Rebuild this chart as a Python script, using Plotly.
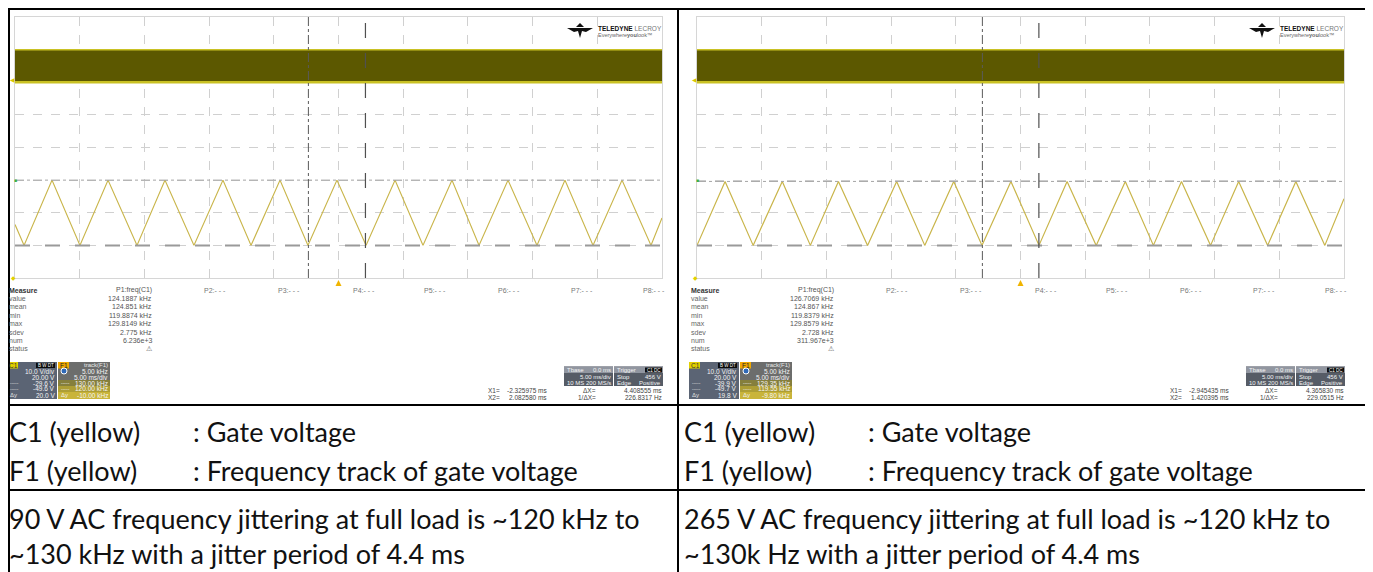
import plotly.graph_objects as go

W, H = 1373, 572          # reference picture size
PAGE_OFF = 8               # the html body margin shifts the figure by 8 px
FW, FH = W - PAGE_OFF, H - PAGE_OFF

# ---------------- data ----------------
# F1 = frequency track of gate voltage (kHz) versus time (ms), 5 ms/div, 5 kHz/div
left_f1_t_ms = [-25.0, -24.30, -22.14, -19.98, -17.81, -15.57, -13.41, -11.17, -8.93, -6.76,
                -4.52, -2.36, -0.12, 2.13, 4.37, 6.53, 8.77, 10.86, 13.10, 15.34,
                17.50, 19.67, 21.91, 24.15, 25.0]
left_f1_khz = [123.2, 120.0, 130.0, 120.0, 130.0, 120.0, 130.0, 120.0, 130.0, 120.0,
               130.0, 120.0, 130.0, 120.0, 130.0, 120.0, 130.0, 120.0, 130.0, 120.0,
               130.0, 120.0, 130.0, 120.0, 124.2]
right_f1_t_ms = [-25.0, -22.83, -20.66, -18.41, -16.24, -14.07, -11.82, -9.57, -7.40, -5.16,
                 -2.98, -0.74, 1.43, 3.60, 5.85, 8.10, 10.27, 12.44, 14.69, 16.86,
                 19.10, 21.28, 23.52, 25.0]
right_f1_khz = [119.55, 129.35, 119.55, 129.35, 119.55, 129.35, 119.55, 129.35, 119.55, 129.35,
                119.55, 129.35, 119.55, 129.35, 119.55, 129.35, 119.55, 129.35, 119.55, 129.35,
                119.55, 129.35, 119.55, 126.7]

# C1 = gate voltage envelope (V), 10 V/div
gate_t_ms = [-25.0, 25.0]
gate_low_v = [0.0, 0.0]
gate_high_v = [10.0, 10.0]

# cursors
left_cursor_t_ms = [-2.325975, 2.082580]
left_cursor_khz = [130.0, 120.0]
right_cursor_t_ms = [-2.945435, 1.420395]
right_cursor_khz = [129.35, 119.55]

# measurement table
measure_rows = ["value", "mean", "min", "max", "sdev", "num", "status"]
left_measure = ["124.1887 kHz", "124.851 kHz", "119.8874 kHz", "129.8149 kHz", "2.775 kHz", "6.236e+3", "⚠"]
right_measure = ["126.7069 kHz", "124.867 kHz", "119.8379 kHz", "129.8579 kHz", "2.728 kHz", "311.967e+3", "⚠"]
param_names = ["P1:freq(C1)", "P2:- - -", "P3:- - -", "P4:- - -", "P5:- - -", "P6:- - -", "P7:- - -", "P8:- - -"]

left_c1_box = ["10.0 V/div", "20.00 V", "-29.6 V", "-49.6 V", "20.0 V"]
left_f1_box = ["5.00 kHz", "5.00 ms/div", "130.00 kHz", "120.00 kHz", "-10.00 kHz"]
right_c1_box = ["10.0 V/div", "20.00 V", "-39.9 V", "-49.7 V", "19.8 V"]
right_f1_box = ["5.00 kHz", "5.00 ms/div", "129.35 kHz", "119.55 kHz", "-9.80 kHz"]
tbase_box = ["Tbase", "0.0 ms", "5.00 ms/div", "10 MS", "200 MS/s"]
trigger_box = ["Trigger", "Stop", "456 V", "Edge", "Positive"]
left_x_readout = [("X1=", "-2.325975 ms", "ΔX=", "4.408555 ms"), ("X2=", "2.082580 ms", "1/ΔX=", "226.8317 Hz")]
right_x_readout = [("X1=", "-2.945435 ms", "ΔX=", "4.365830 ms"), ("X2=", "1.420395 ms", "1/ΔX=", "229.0515 Hz")]

caption_rows = [("C1 (yellow)", ": Gate voltage"), ("F1 (yellow)", ": Frequency track of gate voltage")]
left_note = ["90 V AC frequency jittering at full load is ~120 kHz to", "~130 kHz with a jitter period of 4.4 ms"]
right_note = ["265 V AC frequency jittering at full load is ~120 kHz to", "~130k Hz with a jitter period of 4.4 ms"]

# ---------------- helpers (reference pixel -> paper) ----------------
def P(x):
    return (x - PAGE_OFF) / FW

def Q(y):
    return 1 - (y - PAGE_OFF) / FH

shapes = []
annotations = []
SCOPE_FONT = "Liberation Sans, Arial, sans-serif"


def rect(x0, y0, x1, y1, color):
    shapes.append(dict(type="rect", xref="paper", yref="paper", x0=P(x0), x1=P(x1), y0=Q(y1), y1=Q(y0),
                       fillcolor=color, line=dict(width=0), layer="above"))


def hline(x0, x1, y, color="black", w=2):
    shapes.append(dict(type="line", xref="paper", yref="paper", x0=P(x0), x1=P(x1), y0=Q(y), y1=Q(y),
                       line=dict(color=color, width=w), layer="above"))


def vline(x, y0, y1, color="black", w=2):
    shapes.append(dict(type="line", xref="paper", yref="paper", x0=P(x), x1=P(x), y0=Q(y0), y1=Q(y1),
                       line=dict(color=color, width=w), layer="above"))


def txt(x, y, s, size=7, color="#555555", anchor="left", family=SCOPE_FONT, bold=False):
    if bold:
        s = "<b>" + s + "</b>"
    annotations.append(dict(xref="paper", yref="paper", x=P(x), y=Q(y), text=s, showarrow=False,
                            xanchor=anchor, yanchor="middle", borderpad=0,
                            font=dict(family=family, size=size, color=color)))


# ---------------- figure ----------------
fig = go.Figure()

BAND_FILL = "#5c5800"
BAND_EDGE = "#c9c124"
TRACE_COL = "#c9b54a"
GRID_COL = "#d0d0d0"

panels = [
    dict(off=0, xa="x", ya="y", yc="y2", t=left_f1_t_ms, f=left_f1_khz, frange=[115.0, 155.0],
         ct=left_cursor_t_ms, cf=left_cursor_khz, meas=left_measure, c1=left_c1_box, f1=left_f1_box,
         xr=left_x_readout),
    dict(off=682, xa="x2", ya="y3", yc="y4", t=right_f1_t_ms, f=right_f1_khz, frange=[114.55, 154.55],
         ct=right_cursor_t_ms, cf=right_cursor_khz, meas=right_measure, c1=right_c1_box, f1=right_f1_box,
         xr=right_x_readout),
]

for pnl in panels:
    xa, ya, yc = pnl["xa"], pnl["ya"], pnl["yc"]
    fig.add_trace(go.Scatter(x=gate_t_ms, y=gate_low_v, xaxis=xa, yaxis=yc, mode="lines",
                             line=dict(color=BAND_EDGE, width=2.5), showlegend=False, hoverinfo="skip"))
    fig.add_trace(go.Scatter(x=gate_t_ms, y=gate_high_v, xaxis=xa, yaxis=yc, mode="lines",
                             fill="tonexty", fillcolor=BAND_FILL,
                             line=dict(color=BAND_EDGE, width=1.5), showlegend=False, hoverinfo="skip"))
    fig.add_trace(go.Scatter(x=pnl["t"], y=pnl["f"], xaxis=xa, yaxis=ya, mode="lines",
                             line=dict(color=TRACE_COL, width=1.2), showlegend=False, hoverinfo="skip"))
    shapes.append(dict(type="line", xref=xa + " domain", yref=ya, x0=0, x1=1, y0=pnl["cf"][0], y1=pnl["cf"][0],
                       line=dict(color="#a5a5a5", width=1, dash="dashdot"), layer="above"))
    shapes.append(dict(type="line", xref=xa + " domain", yref=ya, x0=0, x1=1, y0=pnl["cf"][1], y1=pnl["cf"][1],
                       line=dict(color="#9a9a9a", width=2, dash="longdash"), layer="above"))
    shapes.append(dict(type="line", xref=xa, yref=ya + " domain", x0=pnl["ct"][0], x1=pnl["ct"][0], y0=0, y1=1,
                       line=dict(color="#5a5a5a", width=1, dash="dashdot"), layer="above"))
    shapes.append(dict(type="line", xref=xa, yref=ya + " domain", x0=pnl["ct"][1], x1=pnl["ct"][1], y0=0, y1=1,
                       line=dict(color="#505050", width=1.2, dash="longdash"), layer="above"))

axis_common = dict(showgrid=True, gridcolor=GRID_COL, griddash="dash", gridwidth=1, zeroline=False,
                   showticklabels=False, ticks="", showline=True, linecolor="#d6d6d6", linewidth=1,
                   mirror=True, fixedrange=True)
tick_axis = dict(showgrid=False, zeroline=False, showticklabels=False, ticks="outside", ticklen=4,
                 tickwidth=1, tickcolor="#b8b8b8", showline=False, fixedrange=True)

L_DOM_X = [P(15), P(662)]
R_DOM_X = [P(697), P(1344)]
DOM_Y = [Q(278), Q(17)]

fig.update_layout(
    xaxis=dict(domain=L_DOM_X, anchor="y", range=[-25, 25], dtick=5, tick0=-25, **axis_common),
    yaxis=dict(domain=DOM_Y, anchor="x", range=panels[0]["frange"], dtick=5,
               tick0=panels[0]["frange"][0], **axis_common),
    yaxis2=dict(overlaying="y", anchor="x", range=[-60, 20], visible=False, fixedrange=True),
    xaxis2=dict(domain=R_DOM_X, anchor="y3", range=[-25, 25], dtick=5, tick0=-25, **axis_common),
    yaxis3=dict(domain=DOM_Y, anchor="x2", range=panels[1]["frange"], dtick=5,
                tick0=panels[1]["frange"][0], **axis_common),
    yaxis4=dict(overlaying="y3", anchor="x2", range=[-60, 20], visible=False, fixedrange=True),
    # centre graticule tick marks (0.2 div)
    xaxis3=dict(overlaying="x", anchor="free", position=Q(145.5), range=[-25, 25], dtick=1, tick0=-25, **tick_axis),
    xaxis4=dict(overlaying="x2", anchor="free", position=Q(145.5), range=[-25, 25], dtick=1, tick0=-25, **tick_axis),
    yaxis5=dict(overlaying="y", anchor="free", position=P(340.5), side="left", range=panels[0]["frange"],
                dtick=1, tick0=panels[0]["frange"][0], **tick_axis),
    yaxis6=dict(overlaying="y3", anchor="free", position=P(682 + 340.5), side="left", range=panels[1]["frange"],
                dtick=1, tick0=panels[1]["frange"][0], **tick_axis),
)

# ---------------- scope decorations per panel ----------------
for pnl in panels:
    o = pnl["off"]
    txt(o + 9, 80, "◀", size=6, color="#d8c800")
    txt(o + 13, 180, "■", size=5, color="#3cb043")
    txt(o + 10, 278, "◆", size=6, color="#e0d000")
    shapes.append(dict(type="path", xref="paper", yref="paper",
                       path="M %f,%f L %f,%f L %f,%f Z" % (P(o + 335.5), Q(286), P(o + 341.5), Q(286), P(o + 338.5), Q(280)),
                       fillcolor="#f0b400", line=dict(width=0), layer="above"))

    # Teledyne LeCroy logo
    lx = o + 567
    shapes.append(dict(type="path", xref="paper", yref="paper",
                       path=("M %f,%f L %f,%f L %f,%f L %f,%f L %f,%f L %f,%f L %f,%f Z" % (
                           P(lx), Q(28), P(lx + 26), Q(28), P(lx + 19), Q(32), P(lx + 15), Q(31),
                           P(lx + 13), Q(38), P(lx + 11), Q(31), P(lx + 7), Q(32))),
                       fillcolor="#111111", line=dict(width=0), layer="above"))
    shapes.append(dict(type="path", xref="paper", yref="paper",
                       path=("M %f,%f L %f,%f L %f,%f Z" % (P(lx + 9), Q(27), P(lx + 13), Q(23), P(lx + 17), Q(27))),
                       fillcolor="#111111", line=dict(width=0), layer="above"))
    txt(o + 597, 28.5, "<b>TELEDYNE</b> <span style='color:#777'>LECROY</span>", size=6.5, color="#111")
    txt(o + 597, 35, "Everywhere<b>you</b>look™", size=5.5, color="#666")

    # measure table
    txt(o + 8, 290, "Measure", size=7, color="#333", bold=True)
    for i, lab in enumerate(measure_rows):
        yy = 298.5 + i * 8.4
        txt(o + 8, yy, lab, size=7, color="#666")
        txt(o + 153, yy, pnl["meas"][i], size=7, color="#555", anchor="right")
    txt(o + 153, 290, param_names[0], size=7, color="#555", anchor="right")
    for k, xp in enumerate([203, 277, 352, 423, 497, 570, 642]):
        txt(o + xp, 290, param_names[k + 1], size=7, color="#777")

    # C1 channel box
    rect(o + 7, 362, o + 57, 399, "#5b6474")
    rect(o + 7, 362, o + 18, 368.5, "#e3d000")
    txt(o + 8, 365.3, "C1", size=6.5, color="#333")
    rect(o + 36, 362.8, o + 55, 368, "#0c0c0c")
    txt(o + 45.5, 365.4, "B W DT", size=4.5, color="#ffffff", anchor="center")
    for i, s in enumerate(pnl["c1"]):
        txt(o + 56, 371 + i * 6, s, size=6.5, color="#f2f2f2", anchor="right")
    txt(o + 9, 383, "-----", size=5, color="#e0e0e0")
    txt(o + 9, 389, "-----", size=5, color="#e0e0e0")
    txt(o + 9, 395, "Δy", size=6, color="#e0e0e0")

    # F1 function box
    rect(o + 58, 362, o + 110, 399, "#6c6d6c")
    rect(o + 58, 380, o + 110, 386, "#857f3c")
    rect(o + 58, 386, o + 110, 392, "#ad9e35")
    rect(o + 58, 392, o + 110, 399, "#c9b43a")
    rect(o + 58, 362, o + 69, 368.5, "#f0a800")
    txt(o + 59, 365.3, "F1", size=6.5, color="#222")
    txt(o + 109, 365.3, "track(F1)", size=6, color="#e8e8e8", anchor="right")
    shapes.append(dict(type="circle", xref="paper", yref="paper", x0=P(o + 61), x1=P(o + 67), y0=Q(374), y1=Q(368),
                       fillcolor="#2f69b8", line=dict(color="#ffffff", width=1), layer="above"))
    for i, s in enumerate(pnl["f1"]):
        txt(o + 109, 371 + i * 6, s, size=6.5, color="#f4f4f4", anchor="right")
    txt(o + 60, 383, "-----", size=5, color="#f0f0f0")
    txt(o + 60, 389, "-----", size=5, color="#f0f0f0")
    txt(o + 60, 395, "Δy", size=6, color="#f0f0f0")

    # Timebase / Trigger boxes
    for bx in (564, 614):
        rect(o + bx, 366.5, o + bx + 49, 386, "#565c66")
        rect(o + bx, 366.5, o + bx + 49, 373, "#9196a0")
    txt(o + 565.5, 370, tbase_box[0], size=6, color="#f4f4f4")
    txt(o + 612, 370, tbase_box[1], size=6, color="#f4f4f4", anchor="right")
    txt(o + 612, 376.5, tbase_box[2], size=6, color="#f4f4f4", anchor="right")
    txt(o + 565.5, 382.5, tbase_box[3], size=6, color="#f4f4f4")
    txt(o + 612, 382.5, tbase_box[4], size=6, color="#f4f4f4", anchor="right")
    txt(o + 615.5, 370, trigger_box[0], size=6, color="#f4f4f4")
    rect(o + 645, 367.5, o + 662, 372.5, "#0c0c0c")
    txt(o + 653.5, 370, "C1 DC", size=4.5, color="#ffffff", anchor="center")
    txt(o + 615.5, 376.5, trigger_box[1], size=6, color="#f4f4f4")
    txt(o + 662, 376.5, trigger_box[2], size=6, color="#f4f4f4", anchor="right")
    txt(o + 615.5, 382.5, trigger_box[3], size=6, color="#f4f4f4")
    txt(o + 662, 382.5, trigger_box[4], size=6, color="#f4f4f4", anchor="right")

    # cursor readouts
    for r, yy in zip(pnl["xr"], (390.5, 397)):
        txt(o + 501, yy, r[0], size=6.5, color="#444", anchor="right")
        txt(o + 548, yy, r[1], size=6.5, color="#444", anchor="right")
        txt(o + 597, yy, r[2], size=6.5, color="#444", anchor="right")
        txt(o + 663, yy, r[3], size=6.5, color="#444", anchor="right")

# ---------------- table below ----------------
CAP_FONT = "Lato, 'Noto Sans', sans-serif"
CAP_SIZE = 27
for cx, note in [(8, left_note), (683, right_note)]:
    txt(cx, 431, caption_rows[0][0], size=CAP_SIZE, color="#111", family=CAP_FONT)
    txt(cx + 184, 431, caption_rows[0][1], size=CAP_SIZE, color="#111", family=CAP_FONT)
    txt(cx, 470, caption_rows[1][0], size=CAP_SIZE, color="#111", family=CAP_FONT)
    txt(cx + 184, 470, caption_rows[1][1], size=CAP_SIZE, color="#111", family=CAP_FONT)
    txt(cx, 518, note[0], size=CAP_SIZE, color="#111", family=CAP_FONT)
    txt(cx, 553, note[1], size=CAP_SIZE, color="#111", family=CAP_FONT)

# table borders
hline(8, 1368, 9)
hline(8, 1368, 405)
hline(8, 1368, 490)
vline(9, 8, 572)
vline(678, 8, 572)
vline(1367, 8, 572)

fig.update_layout(
    width=FW, height=FH, margin=dict(l=0, r=0, t=0, b=0),
    paper_bgcolor="white", plot_bgcolor="white",
    shapes=shapes, annotations=annotations, showlegend=False,
)

fig.write_html("out.html")
